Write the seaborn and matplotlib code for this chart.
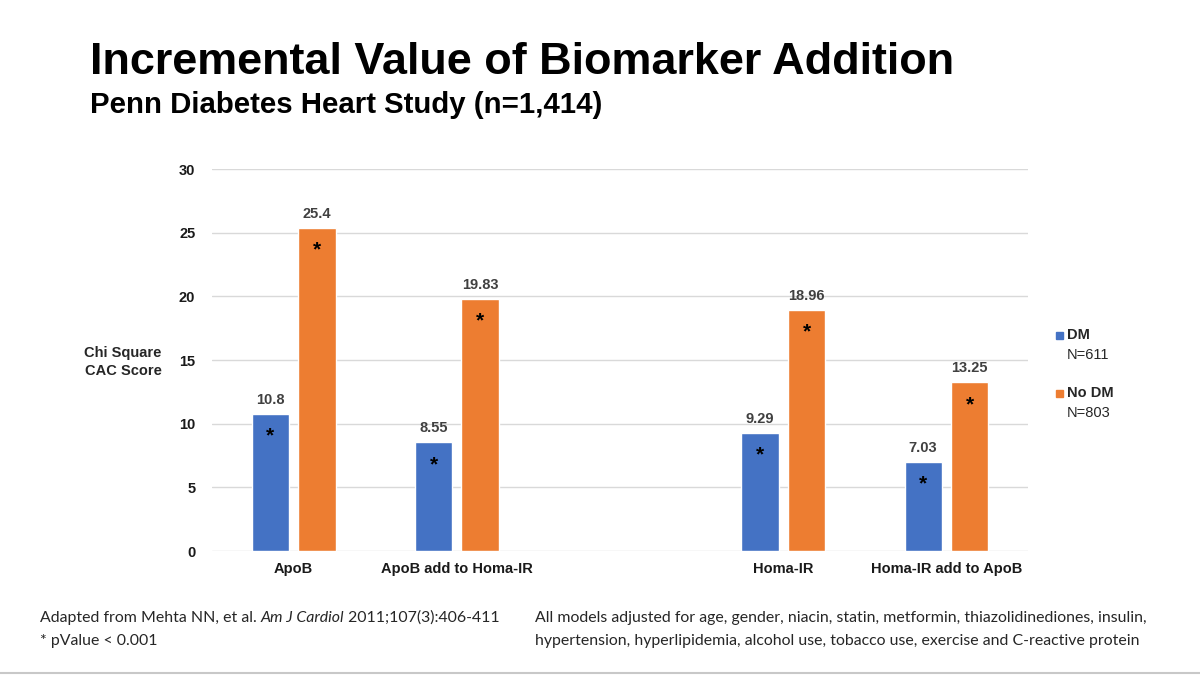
import pandas as pd
import seaborn as sns
import matplotlib.pyplot as plt
from matplotlib.patches import Rectangle
from matplotlib.lines import Line2D

# data
categories = ["ApoB", "ApoB add to Homa-IR", "Homa-IR", "Homa-IR add to ApoB"]
dm_values = [10.8, 8.55, 9.29, 7.03]
nodm_values = [25.4, 19.83, 18.96, 13.25]
groups = ["DM", "No DM"]
group_n = ["N=611", "N=803"]
# blank slot between the two pairs of models
order = ["ApoB", "ApoB add to Homa-IR", " ", "Homa-IR", "Homa-IR add to ApoB"]
y_ticks = [0, 5, 10, 15, 20, 25, 30]

df = pd.DataFrame({
    "model": categories * 2,
    "group": [groups[0]] * 4 + [groups[1]] * 4,
    "chi": dm_values + nodm_values,
})

sns.set_theme(style="white")
plt.rcParams["font.family"] = ["Liberation Sans", "DejaVu Sans"]

fig = plt.figure(figsize=(12, 6.79), dpi=100)
ax = fig.add_axes([0.1767, 0.1885, 0.68, 0.5625])

colors = ["#4472C4", "#ED7D31"]
sns.barplot(data=df, x="model", y="chi", hue="group", order=order,
            hue_order=groups, palette=colors, saturation=1,
            width=0.57, gap=0.2, legend=False, ax=ax)

ax.set_ylim(0, 30)
ax.set_xlim(-0.5, 4.5)
ax.set_yticks(y_ticks)
ax.yaxis.grid(True, color="#D9D9D9", linewidth=1)
ax.set_axisbelow(True)
for s in ax.spines.values():
    s.set_visible(False)
ax.tick_params(length=0, labelsize=10.5, colors="#1a1a1a", pad=8)
for lab in ax.get_xticklabels() + ax.get_yticklabels():
    lab.set_fontweight("bold")
ax.tick_params(axis="y", pad=12)
ax.set_xlabel("")
ax.set_ylabel("")

# value labels and significance stars
for cont in ax.containers:
    ax.bar_label(cont, labels=[f"{v:g}" for v in cont.datavalues], padding=5,
                 fontsize=10.5, fontweight="bold", color="#404040")
    for bar in cont:
        x = bar.get_x() + bar.get_width() / 2
        ax.annotate("*", (x, bar.get_height()), xytext=(0, -23),
                    textcoords="offset points", ha="center", va="bottom",
                    fontsize=15, fontweight="bold", color="black")

fig.text(123 / 1200, 1 - 362 / 679, "Chi Square\nCAC Score", ha="center",
         va="center", fontsize=10.5, fontweight="bold", linespacing=1.4)

# titles
fig.text(90 / 1200, 1 - 62 / 679, "Incremental Value of Biomarker Addition",
         fontsize=32.4, fontweight="bold", va="center", color="black")
fig.text(90 / 1200, 1 - 105 / 679, "Penn Diabetes Heart Study (n=1,414)",
         fontsize=21.2, fontweight="bold", va="center", color="black")

# legend
for i, (g, n) in enumerate(zip(groups, group_n)):
    yc = 335 + i * 58
    fig.add_artist(Rectangle((1056 / 1200, 1 - (yc + 3.5) / 679), 7 / 1200,
                             7 / 679, transform=fig.transFigure,
                             color=colors[i]))
    fig.text(1067 / 1200, 1 - yc / 679, g, fontsize=10.5, fontweight="bold",
             va="center")
    fig.text(1067 / 1200, 1 - (yc + 20) / 679, n, fontsize=10.5,
             va="center")

# footnotes
foot = dict(fontsize=11.4, va="center", family=["Lato", "DejaVu Sans"])
t1 = fig.text(40 / 1200, 1 - 618 / 679, "Adapted from Mehta NN, et al. ", **foot)
t2 = fig.text(0, 0, "Am J Cardiol", style="italic", **foot)
fig.canvas.draw()
r = fig.canvas.get_renderer()
bb = t1.get_window_extent(r)
t2.set_position((bb.x1 / fig.bbox.width, 1 - 618 / 679))
bb2 = t2.get_window_extent(r)
fig.text(bb2.x1 / fig.bbox.width, 1 - 618 / 679, " 2011;107(3):406-411", **foot)
fig.text(40 / 1200, 1 - 641 / 679, "* pValue < 0.001", **foot)
fig.text(535 / 1200, 1 - 618 / 679,
         "All models adjusted for age, gender, niacin, statin, metformin, thiazolidinediones, insulin,",
         **foot)
fig.text(535 / 1200, 1 - 641 / 679,
         "hypertension, hyperlipidemia, alcohol use, tobacco use, exercise and C-reactive protein",
         **foot)

fig.add_artist(Line2D([0, 1], [1 - 673 / 679] * 2, transform=fig.transFigure,
                      color="#C8C8C8", linewidth=1.5))

fig.savefig("out.png", dpi=100, facecolor="white")
